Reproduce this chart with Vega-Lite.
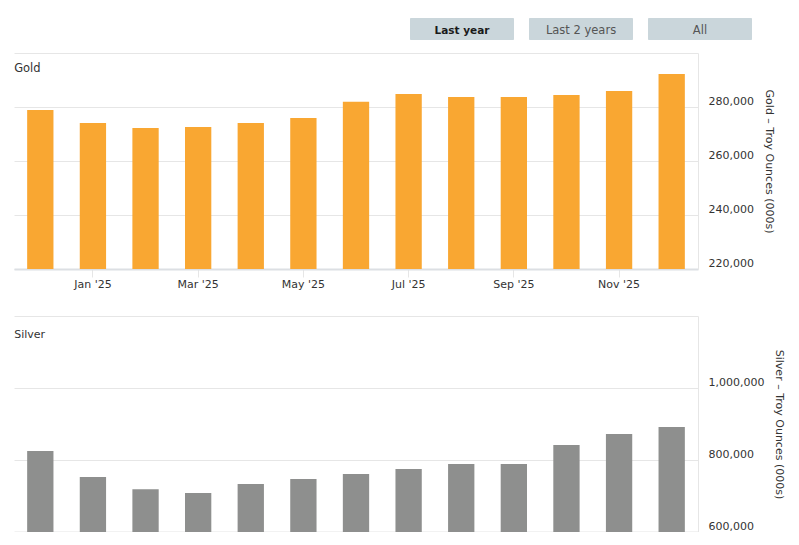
{
"$schema":"https://vega.github.io/schema/vega-lite/v6.json",
"background":"white",
"padding":{"left":14,"top":18,"right":0,"bottom":0},
"config":{"view":{"stroke":null},"font":"DejaVu Sans","axis":{"labelFont":"DejaVu Sans","titleFont":"DejaVu Sans","labelFontSize":11,"titleFontSize":11,"labelColor":"#333333","titleColor":"#333333","titleFontWeight":"normal"}},
"datasets":{"months":[
{"month":"Dec '24","gold":278900,"silver":825000},
{"month":"Jan '25","gold":274100,"silver":752800},
{"month":"Feb '25","gold":272200,"silver":719000},
{"month":"Mar '25","gold":272600,"silver":708000},
{"month":"Apr '25","gold":274100,"silver":733000},
{"month":"May '25","gold":275900,"silver":747000},
{"month":"Jun '25","gold":281900,"silver":761000},
{"month":"Jul '25","gold":284800,"silver":775000},
{"month":"Aug '25","gold":283700,"silver":789000},
{"month":"Sep '25","gold":283700,"silver":789000},
{"month":"Oct '25","gold":284400,"silver":842000},
{"month":"Nov '25","gold":285900,"silver":872000},
{"month":"Dec '25","gold":292200,"silver":892000}
],
"buttons":[{"label":"Last year","active":true},{"label":"Last 2 years","active":false},{"label":"All","active":false}]},
"spacing":13,
"vconcat":[
{"width":684,"height":22,"data":{"name":"buttons"},
"encoding":{"x":{"field":"label","type":"nominal","sort":null,"axis":null,"scale":{"range":[396,738],"paddingInner":0.126,"paddingOuter":0}}},
"layer":[
{"mark":{"type":"bar","color":"#cad6db","cornerRadius":1}},
{"transform":[{"filter":"datum.active"}],"mark":{"type":"text","fontWeight":"bold","fontSize":10.5,"color":"#1a1a1a","dy":1.5},"encoding":{"text":{"field":"label"}}},
{"transform":[{"filter":"!datum.active"}],"mark":{"type":"text","fontSize":11.5,"color":"#555555","dy":1.5},"encoding":{"text":{"field":"label"}}}
]},
{"spacing":47,"bounds":"flush","vconcat":[
{"width":684,"height":216,
"layer":[
{"data":{"name":"months"},"mark":{"type":"bar","color":"#f9a732","clip":true},
"encoding":{
"x":{"field":"month","type":"ordinal","sort":null,"scale":{"paddingInner":0.5,"paddingOuter":0.25},"axis":{"title":null,"values":["Jan '25","Mar '25","May '25","Jul '25","Sep '25","Nov '25"],"labelAngle":0,"grid":false,"domainColor":"#dcdfe3","domainWidth":2,"tickColor":"#e6e6e6","tickSize":8,"labelPadding":1}},
"y":{"field":"gold","type":"quantitative","scale":{"domain":[220000,300000],"nice":false,"zero":false},
"axis":{"orient":"right","title":"Gold – Troy Ounces (000s)","values":[220000,240000,260000,280000,300000],"labelExpr":"datum.value==300000?'':format(datum.value,',')","ticks":false,"labelPadding":10,"labelOffset":-6,"domainColor":"#e6e6e6","gridColor":"#e6e6e6","grid":true,"titlePadding":10}}
}},
{"data":{"values":[{"name":"Gold","month":"Dec '24","level":294400}]},"mark":{"type":"text","align":"left","fontSize":11.5,"color":"#333333","dx":-13,"dy":1},
"encoding":{"x":{"field":"month","type":"ordinal","sort":null,"bandPosition":0},"y":{"field":"level","type":"quantitative"},"text":{"field":"name"}}}
]},
{"width":684,"height":216,
"layer":[
{"data":{"name":"months"},"mark":{"type":"bar","color":"#8e8f8e","clip":true},
"encoding":{
"x":{"field":"month","type":"ordinal","sort":null,"scale":{"paddingInner":0.5,"paddingOuter":0.25},"axis":{"title":null,"labels":false,"ticks":false,"grid":false,"domainColor":"#e6e6e6","domainWidth":2}},
"y":{"field":"silver","type":"quantitative","scale":{"domain":[600000,1200000],"nice":false,"zero":false},
"axis":{"orient":"right","title":"Silver – Troy Ounces (000s)","values":[600000,800000,1000000,1200000],"labelExpr":"datum.value==1200000?'':format(datum.value,',')","ticks":false,"labelPadding":10,"labelOffset":-6,"domainColor":"#e6e6e6","gridColor":"#e6e6e6","grid":true,"titlePadding":10}}
}},
{"data":{"values":[{"name":"Silver","month":"Dec '24","level":1150000}]},"mark":{"type":"text","align":"left","fontSize":11,"color":"#333333","dx":-13,"dy":1},
"encoding":{"x":{"field":"month","type":"ordinal","sort":null,"bandPosition":0},"y":{"field":"level","type":"quantitative"},"text":{"field":"name"}}}
]}
]}
]}
